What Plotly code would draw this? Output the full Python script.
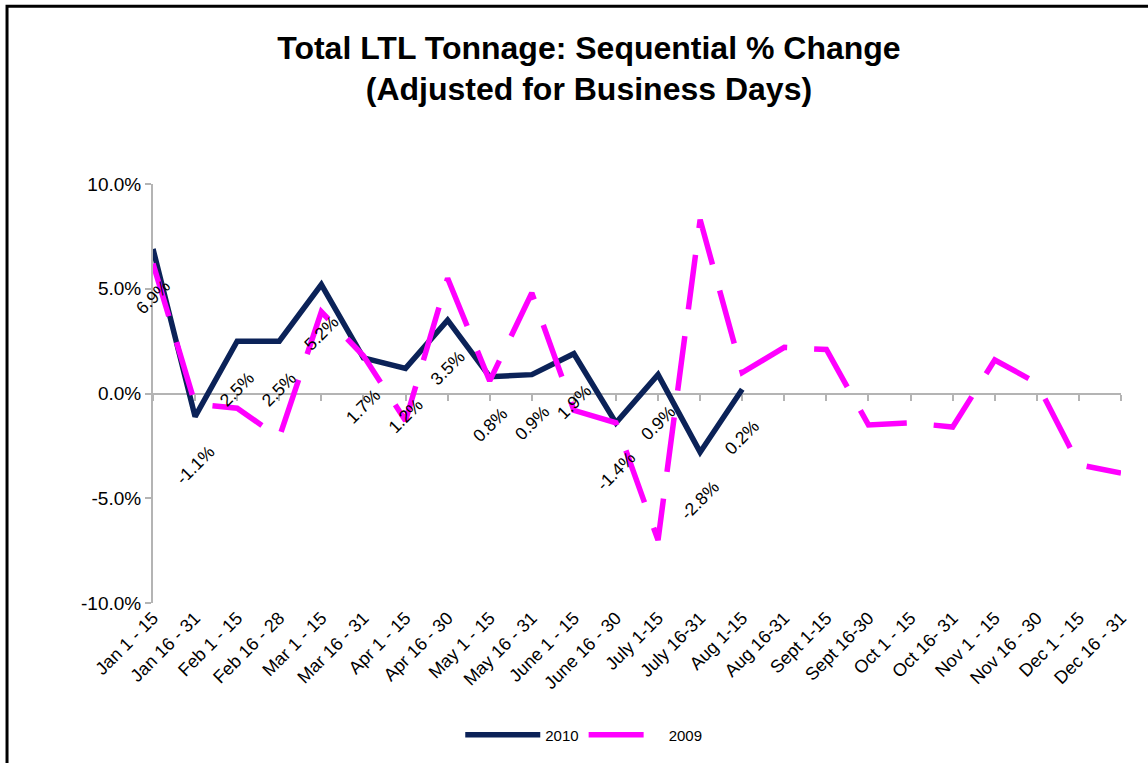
import plotly.graph_objects as go

categories = ["Jan 1 - 15", "Jan 16 - 31", "Feb 1 - 15", "Feb 16 - 28", "Mar 1 - 15",
              "Mar 16 - 31", "Apr 1 - 15", "Apr 16 - 30", "May 1 - 15", "May 16 - 31",
              "June 1 - 15", "June 16 - 30", "July 1-15", "July 16-31", "Aug 1-15",
              "Aug 16-31", "Sept 1-15", "Sept 16-30", "Oct 1 - 15", "Oct 16- 31",
              "Nov 1 - 15", "Nov 16 - 30", "Dec 1 - 15", "Dec 16 - 31"]

values_2010 = [6.9, -1.1, 2.5, 2.5, 5.2, 1.7, 1.2, 3.5, 0.8, 0.9, 1.9, -1.4, 0.9, -2.8, 0.2]

values_2009 = [6.2, -0.5, -0.7, -2.1, 3.9, 1.8, -1.3, 5.5, 0.6, 4.8, -0.8, -1.4,
               -7.0, 8.3, 1.0, 2.2, 2.1, -1.5, -1.4, -1.6, 1.6, 0.5, -3.4, -3.8]

y_tickvals = [-10, -5, 0, 5, 10]
y_ticktext = ["-10.0%", "-5.0%", "0.0%", "5.0%", "10.0%"]

FONT = "Liberation Sans, Arial, sans-serif"
NAVY = "#0B2258"
MAGENTA = "#FF00FF"
AXIS_GRAY = "#B4B4B4"

fig = go.Figure()

fig.add_trace(go.Scatter(
    x=categories[:len(values_2010)], y=values_2010, name="2010",
    mode="lines", line=dict(color=NAVY, width=5.5),
    xaxis="x", yaxis="y",
))
fig.add_trace(go.Scatter(
    x=categories, y=values_2009, name="2009",
    mode="lines", line=dict(color=MAGENTA, width=5.5, dash="55px,27px"),
    xaxis="x2", yaxis="y",
))

annotations = []
for cat, v in zip(categories, values_2010):
    annotations.append(dict(
        x=cat, y=v, xref="x", yref="y", text=f"{v:.1f}%", showarrow=False,
        textangle=-45, yshift=-48, xanchor="center", yanchor="middle",
        font=dict(family=FONT, size=17.5, color="black"),
    ))

cat_range = [0, len(categories) - 1]

fig.update_layout(
    width=1148, height=763,
    margin=dict(l=153, r=27, t=184, b=160),
    paper_bgcolor="white", plot_bgcolor="white",
    font=dict(family=FONT, color="black"),
    title=dict(
        text="<b>Total LTL Tonnage: Sequential % Change<br>(Adjusted for Business Days)</b>",
        xref="container", x=0.513, xanchor="center",
        yref="container", y=0.923, yanchor="middle",
        font=dict(family=FONT, size=32, color="black"),
    ),
    xaxis=dict(
        type="category", categoryorder="array", categoryarray=categories,
        range=cat_range, showline=False, ticks="", showgrid=False, zeroline=False,
        tickangle=-45, tickfont=dict(family=FONT, size=18, color="black"),
    ),
    xaxis2=dict(
        type="category", categoryorder="array", categoryarray=categories,
        range=cat_range, overlaying="x", anchor="free", position=0.5,
        showline=True, linecolor=AXIS_GRAY, linewidth=2,
        ticks="outside", ticklen=6, tickwidth=2, tickcolor=AXIS_GRAY,
        showticklabels=False, showgrid=False, zeroline=False, layer="below traces",
    ),
    yaxis=dict(
        range=[-10, 10], tickvals=y_tickvals, ticktext=y_ticktext,
        showline=True, linecolor=AXIS_GRAY, linewidth=2,
        ticks="outside", ticklen=6, tickwidth=2, tickcolor=AXIS_GRAY,
        showgrid=False, zeroline=False,
        tickfont=dict(family=FONT, size=19, color="black"),
    ),
    legend=dict(
        orientation="h", x=0.445, xanchor="center", y=-0.315, yanchor="middle",
        itemwidth=75,
        font=dict(family=FONT, size=15, color="black"),
    ),
    annotations=annotations,
    shapes=[dict(
        type="rect", xref="paper", yref="paper",
        x0=-0.1508, x1=1.1, y0=-0.45, y1=1.424,
        line=dict(color="black", width=3), fillcolor="rgba(0,0,0,0)", layer="below",
    )],
)

fig.write_html(
    "out.html",
    config={"displayModeBar": False},
    post_script="document.body.style.margin='0px';document.body.style.overflow='hidden';",
)
